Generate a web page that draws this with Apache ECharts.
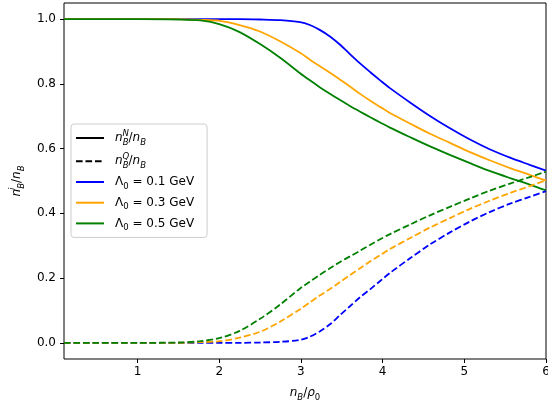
<!DOCTYPE html>
<html>
<head>
<meta charset="utf-8">
<script src="https://cdn.jsdelivr.net/npm/echarts@6/dist/echarts.min.js"></script>
<style>html,body{margin:0;padding:0;background:#fff;}#c{width:548px;height:402px;}</style>
</head>
<body>
<div id="c"></div>
<script>
const xs = [0.1, 0.5, 1.0, 1.5, 1.77, 2.01, 2.25, 2.5, 2.75, 2.99, 3.11, 3.23, 3.36, 3.48, 3.6, 3.72, 3.85, 3.97, 4.09, 4.34, 4.58, 4.83, 5.07, 5.31, 5.56, 5.8, 6.0];
const blueN = [1, 1, 1, 1, 1, 1, 1, 0.999, 0.997, 0.991, 0.982, 0.967, 0.946, 0.921, 0.892, 0.864, 0.836, 0.811, 0.787, 0.742, 0.701, 0.662, 0.628, 0.598, 0.572, 0.550, 0.532];
const blueQ = [0, 0, 0, 0, 0, 0, 0, 0.001, 0.003, 0.009, 0.019, 0.035, 0.058, 0.086, 0.113, 0.140, 0.166, 0.191, 0.216, 0.262, 0.304, 0.342, 0.375, 0.404, 0.430, 0.451, 0.469];
const orangeN = [1, 1, 1, 1, 0.998, 0.995, 0.982, 0.962, 0.931, 0.896, 0.875, 0.855, 0.834, 0.813, 0.792, 0.770, 0.748, 0.729, 0.710, 0.677, 0.646, 0.617, 0.589, 0.564, 0.540, 0.519, 0.501];
const orangeQ = [0, 0, 0, 0, 0.002, 0.005, 0.016, 0.034, 0.066, 0.104, 0.125, 0.146, 0.167, 0.188, 0.209, 0.230, 0.252, 0.271, 0.290, 0.324, 0.356, 0.386, 0.414, 0.439, 0.463, 0.484, 0.502];
const greenN = [1, 1, 1, 0.999, 0.996, 0.984, 0.960, 0.923, 0.880, 0.833, 0.811, 0.790, 0.769, 0.750, 0.732, 0.715, 0.697, 0.681, 0.665, 0.635, 0.607, 0.580, 0.555, 0.531, 0.509, 0.489, 0.471];
const greenQ = [0, 0, 0, 0.001, 0.005, 0.015, 0.037, 0.074, 0.119, 0.168, 0.189, 0.210, 0.231, 0.250, 0.267, 0.284, 0.303, 0.320, 0.336, 0.366, 0.394, 0.421, 0.446, 0.470, 0.492, 0.512, 0.529];
const xTicks = [1, 2, 3, 4, 5, 6];
const yTicks = [0, 0.2, 0.4, 0.6, 0.8, 1.0];
const lambdaLabels = ['0.1', '0.3', '0.5'];

const FONT = 'DejaVu Sans';
const pairs = ys => xs.map((x, i) => [x, ys[i]]);
const rich = {
  t: {fontFamily: FONT, fontSize: 12, color: '#000', lineHeight: 18, verticalAlign: 'middle'},
  i: {fontFamily: FONT, fontSize: 12, color: '#000', fontStyle: 'italic', lineHeight: 18, verticalAlign: 'middle'},
  sub: {fontFamily: FONT, fontSize: 8.5, color: '#000', fontStyle: 'italic', lineHeight: 10, verticalAlign: 'bottom'},
  sub0: {fontFamily: FONT, fontSize: 8.5, color: '#000', lineHeight: 10, verticalAlign: 'bottom'},
  sup: {fontFamily: FONT, fontSize: 8.5, color: '#000', fontStyle: 'italic', lineHeight: 10, verticalAlign: 'top', width: 0.1}
};
const legendText = {
  nN: '{i|n}{sup|N}{sub|B}{t|/}{i|n}{sub|B}',
  nQ: '{i|n}{sup|Q}{sub|B}{t|/}{i|n}{sub|B}',
  L1: '{t|Λ}{sub0|0}{t| = ' + lambdaLabels[0] + ' GeV}',
  L3: '{t|Λ}{sub0|0}{t| = ' + lambdaLabels[1] + ' GeV}',
  L5: '{t|Λ}{sub0|0}{t| = ' + lambdaLabels[2] + ' GeV}'
};
const dash = [6.6, 2.9];
function line(name, color, ys, dashed) {
  return {
    name, type: 'line', data: pairs(ys), symbol: 'none', smooth: 0.3,
    lineStyle: {color, width: 1.8, type: dashed ? dash : 'solid'}, itemStyle: {color},
    z: 3
  };
}
const chart = echarts.init(document.getElementById('c'), null, {renderer: 'canvas'});
chart.setOption({
  animation: false,
  grid: {left: 64, right: 2, top: 3, bottom: 43, show: true, borderColor: '#000', borderWidth: 1, backgroundColor: 'transparent', containLabel: false, outerBoundsMode: 'none'},
  xAxis: {
    type: 'value', min: 0.1, max: 6,
    axisLine: {show: false, onZero: false},
    splitLine: {show: false},
    axisTick: {show: true, length: 4, inside: false, customValues: xTicks, lineStyle: {color: '#000', width: 1}},
    axisLabel: {customValues: xTicks, color: '#000', fontFamily: FONT, fontSize: 12, margin: 7, formatter: v => String(v)},
    name: '{i|n}{sub|B}{t|/}{i|ρ}{sub0|0}', nameLocation: 'middle', nameGap: 25,
    nameTextStyle: {rich}
  },
  yAxis: {
    type: 'value', min: -0.05, max: 1.05,
    axisLine: {show: false, onZero: false},
    splitLine: {show: false},
    axisTick: {show: true, length: 4, customValues: yTicks, lineStyle: {color: '#000', width: 1}},
    axisLabel: {customValues: yTicks, color: '#000', fontFamily: FONT, fontSize: 12, margin: 8, formatter: v => v.toFixed(1)},
    name: '{i|n}{sup|i}{sub|B}{t|/}{i|n}{sub|B}', nameLocation: 'middle', nameGap: 38, nameRotate: 90,
    nameTextStyle: {rich}
  },
  legend: {
    left: 71, top: 124, orient: 'vertical',
    data: ['nN', 'nQ', 'L1', 'L3', 'L5'],
    itemWidth: 28, itemHeight: 16, itemGap: 5.3,
    padding: [5, 13, 5, 4],
    backgroundColor: 'rgba(255,255,255,0.8)', borderColor: '#cccccc', borderWidth: 1, borderRadius: 3,
    itemStyle: {opacity: 0, borderWidth: 0},
    formatter: n => legendText[n],
    textStyle: {rich, fontFamily: FONT, fontSize: 12, color: '#000', padding: [0, 0, 0, 6]}
  },
  series: [
    line('L1', '#0000ff', blueN, false),
    line('L3', '#ffa500', orangeN, false),
    line('L5', '#008000', greenN, false),
    line('L1q', '#0000ff', blueQ, true),
    line('L3q', '#ffa500', orangeQ, true),
    line('L5q', '#008000', greenQ, true),
    {name: 'nN', type: 'line', data: [], symbol: 'none', lineStyle: {color: '#000', width: 1.8}, itemStyle: {color: '#000'}},
    {name: 'nQ', type: 'line', data: [], symbol: 'none', lineStyle: {color: '#000', width: 1.8, type: dash}, itemStyle: {color: '#000'}}
  ]
});
</script>
</body>
</html>
